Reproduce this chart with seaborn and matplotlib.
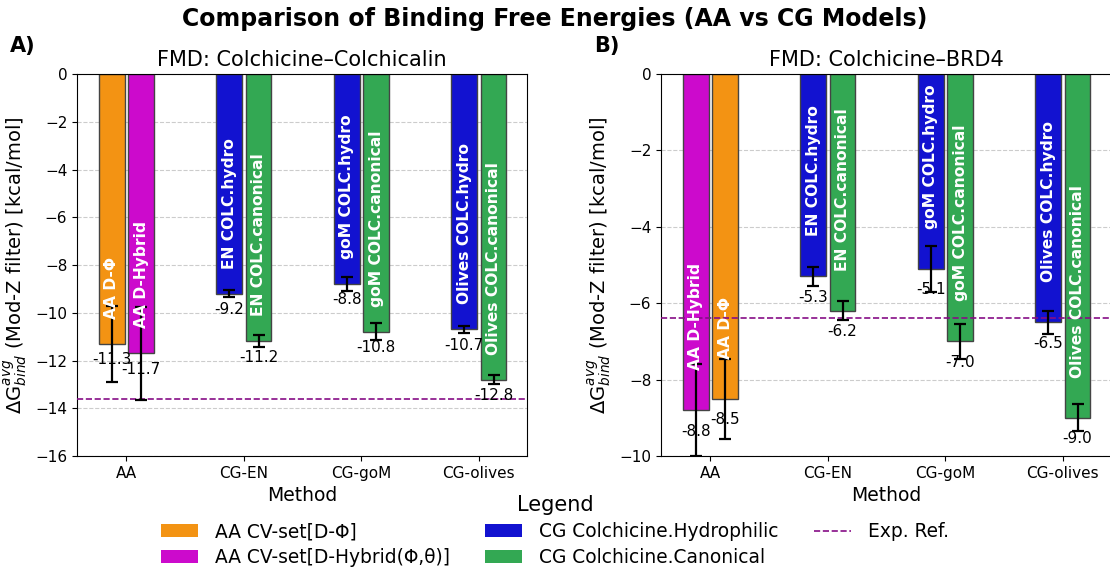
import numpy as np
import pandas as pd
import matplotlib
matplotlib.use("Agg")
import matplotlib.pyplot as plt
from matplotlib.patches import Patch
from matplotlib.lines import Line2D
import seaborn as sns

# ---------------- data ----------------
methods = ["AA", "CG-EN", "CG-goM", "CG-olives"]

# Panel A: Colchicine–Colchicalin (slot 0 = first bar, slot 1 = second bar)
a_values_0 = [-11.3, -9.2, -8.8, -10.7]
a_errors_0 = [1.6, 0.15, 0.3, 0.15]
a_labels_0 = ["AA D-Φ", "EN COLC.hydro", "goM COLC.hydro", "Olives COLC.hydro"]
a_kinds_0 = ["phi", "hydro", "hydro", "hydro"]
a_values_1 = [-11.7, -11.2, -10.8, -12.8]
a_errors_1 = [1.95, 0.25, 0.35, 0.2]
a_labels_1 = ["AA D-Hybrid", "EN COLC.canonical", "goM COLC.canonical", "Olives COLC.canonical"]
a_kinds_1 = ["hybrid", "canon", "canon", "canon"]
a_exp = -13.6

# Panel B: Colchicine–BRD4
b_values_0 = [-8.8, -5.3, -5.1, -6.5]
b_errors_0 = [1.2, 0.25, 0.6, 0.3]
b_labels_0 = ["AA D-Hybrid", "EN COLC.hydro", "goM COLC.hydro", "Olives COLC.hydro"]
b_kinds_0 = ["hybrid", "hydro", "hydro", "hydro"]
b_values_1 = [-8.5, -6.2, -7.0, -9.0]
b_errors_1 = [1.05, 0.25, 0.45, 0.35]
b_labels_1 = ["AA D-Φ", "EN COLC.canonical", "goM COLC.canonical", "Olives COLC.canonical"]
b_kinds_1 = ["phi", "canon", "canon", "canon"]
b_exp = -6.4

colors = {"phi": "#F39313", "hybrid": "#CC0ACC", "hydro": "#1212D0", "canon": "#33A853"}
exp_color = "#860D86"

legend_labels = ["AA CV-set[D-Φ]", "AA CV-set[D-Hybrid(Φ,θ)]",
                 "CG Colchicine.Hydrophilic", "CG Colchicine.Canonical", "Exp. Ref."]


def make_df(v0, e0, l0, k0, v1, e1, l1, k1):
    rows = []
    for slot, (vs, es, ls, ks) in enumerate([(v0, e0, l0, k0), (v1, e1, l1, k1)]):
        for m, v, e, l, k in zip(methods, vs, es, ls, ks):
            rows.append(dict(Method=m, slot=slot, value=v, err=e, label=l, kind=k))
    return pd.DataFrame(rows)


df_a = make_df(a_values_0, a_errors_0, a_labels_0, a_kinds_0,
               a_values_1, a_errors_1, a_labels_1, a_kinds_1)
df_b = make_df(b_values_0, b_errors_0, b_labels_0, b_kinds_0,
               b_values_1, b_errors_1, b_labels_1, b_kinds_1)

fig = plt.figure(figsize=(11.1, 5.71), dpi=100)
ax_a = fig.add_axes([0.0694, 0.2014, 0.4054, 0.669])
ax_b = fig.add_axes([0.5955, 0.2014, 0.4054, 0.669])


def draw(ax, df, exp, ylim, yticks, title):
    sns.barplot(data=df, x="Method", y="value", hue="slot", order=methods,
                errorbar=None, width=0.5, gap=0.12, legend=False, ax=ax,
                palette=["#888888", "#888888"], zorder=2)
    for slot, cont in enumerate(ax.containers[:2]):
        sub = df[df.slot == slot].set_index("Method").loc[methods]
        for bar, (_, r) in zip(cont.patches, sub.iterrows()):
            bar.set_facecolor(colors[r.kind])
            bar.set_edgecolor("#444444")
            bar.set_linewidth(1.0)
            xc = bar.get_x() + bar.get_width() / 2
            ax.errorbar(xc, r.value, yerr=r.err, fmt="none", ecolor="black",
                        elinewidth=1.6, capsize=4, capthick=1.6, zorder=4)
            ax.text(xc, r.value - 0.35, f"{r.value:.1f}", ha="center", va="top",
                    fontsize=11, color="black", zorder=5)
            ax.text(xc, r.value + 1.05, r.label, rotation=90, ha="center",
                    va="bottom", fontsize=11.2, color="white",
                    fontweight="bold", zorder=5)
    ax.axhline(exp, color=exp_color, linestyle="--", linewidth=1.2, zorder=3)
    ax.set_ylim(*ylim)
    ax.set_yticks(yticks)
    ax.set_xlim(-0.42, 3.41)
    ax.yaxis.grid(True, linestyle="--", color="#cccccc", linewidth=0.8)
    ax.set_axisbelow(True)
    ax.set_title(title, fontsize=15)
    ax.set_xlabel("Method", fontsize=13.5)
    ax.set_ylabel(r"$\Delta \mathrm{G}_{bind}^{avg}$ (Mod-Z filter) [kcal/mol]",
                  fontsize=14)
    ax.tick_params(labelsize=11)


draw(ax_a, df_a, a_exp, (-16, 0), np.arange(-16, 1, 2), "FMD: Colchicine–Colchicalin")
draw(ax_b, df_b, b_exp, (-10, 0), np.arange(-10, 1, 2), "FMD: Colchicine–BRD4")

fig.text(0.009, 0.92, "A)", fontsize=15, fontweight="bold", va="center")
fig.text(0.535, 0.92, "B)", fontsize=15, fontweight="bold", va="center")
fig.suptitle("Comparison of Binding Free Energies (AA vs CG Models)",
             fontsize=17, fontweight="bold", y=0.988)

handles = [Patch(facecolor=colors["phi"]), Patch(facecolor=colors["hybrid"]),
           Patch(facecolor=colors["hydro"]), Patch(facecolor=colors["canon"]),
           Line2D([0], [0], color=exp_color, linestyle="--", linewidth=1.2)]
fig.legend(handles, legend_labels, loc="lower center", bbox_to_anchor=(0.5, 0.004),
           ncol=3, frameon=False, fontsize=13.4, title="Legend", title_fontsize=15,
           columnspacing=1.9, labelspacing=0.36, handletextpad=0.9,
           borderaxespad=0.0, borderpad=0.1)

fig.savefig("out.png", dpi=100)
